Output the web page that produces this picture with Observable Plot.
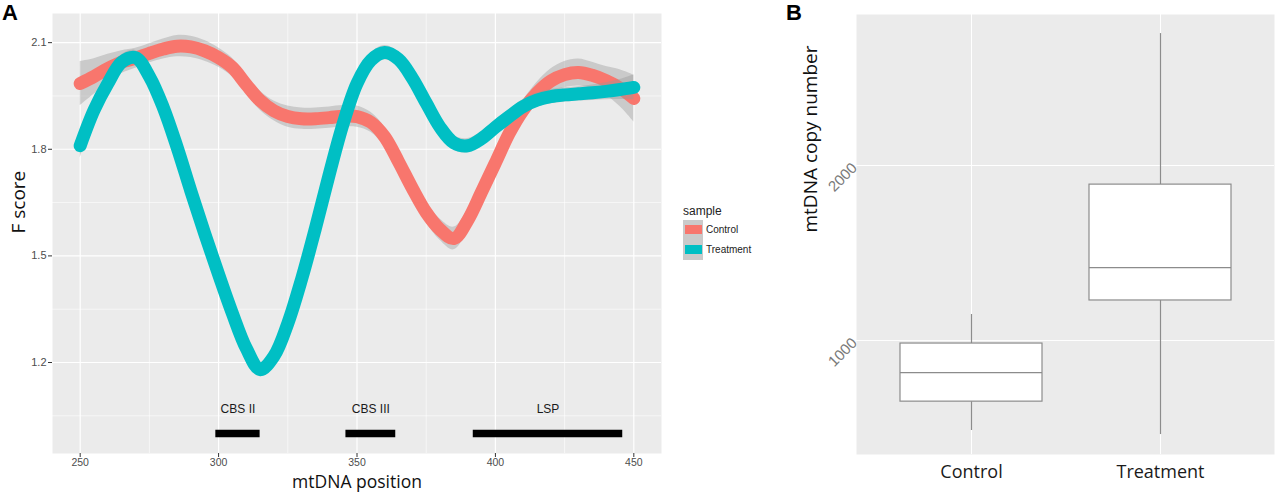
<!DOCTYPE html>
<html>
<head>
<meta charset="utf-8">
<script src="https://cdn.jsdelivr.net/npm/d3@7"></script>
<script src="https://cdn.jsdelivr.net/npm/@observablehq/plot@0.6"></script>
<style>
  body { margin: 0; background: white; }
  #wrap { position: relative; width: 1280px; height: 492px; overflow: hidden; font-family: "Liberation Sans", Arial, sans-serif; }
  #chartA { position: absolute; left: 0; top: 0; }
  #chartB { position: absolute; left: 780px; top: 0; }
  .tag { position: absolute; top: 0px; font: bold 22px "Liberation Sans", Arial, sans-serif; color: #000; }
  #legend { position: absolute; left: 683px; top: 202px; font-size: 10px; color: #222; }
  #legend .title { font-size: 12px; height: 18px; line-height: 18px; }
  #legend .row { position: relative; height: 20px; margin-bottom: 0px; }
  #legend .key { position: absolute; left: 0; top: 0; width: 20px; height: 20px; background: #cacaca; }
  #legend .key span { position: absolute; left: 2px; top: 5px; width: 17px; height: 9px; }
  #legend .lab { position: absolute; left: 23px; top: 0; line-height: 20px; white-space: nowrap; }
</style>
</head>
<body>
<div id="wrap">
  <div id="chartA"></div>
  <div id="chartB"></div>
  <div class="tag" style="left:2px">A</div>
  <div class="tag" style="left:786px">B</div>
  <div id="legend"></div>
</div>
<script>
// panel A: smoothed F score along mtDNA position
const positions = [250, 255, 260, 265, 270, 275, 280, 285, 290, 295, 300, 305, 310, 315, 320, 325, 330, 335, 340, 345,
  350, 355, 360, 365, 370, 375, 380, 385, 390, 395, 400, 405, 410, 415, 420, 425, 430, 435, 440, 445, 450];

const controlF = [1.985, 2.005, 2.027, 2.045, 2.056, 2.070, 2.082, 2.090, 2.088, 2.077, 2.058, 2.030, 1.982, 1.937, 1.908,
  1.892, 1.886, 1.886, 1.889, 1.893, 1.892, 1.876, 1.835, 1.765, 1.690, 1.622, 1.574, 1.549, 1.600, 1.680,
  1.762, 1.845, 1.910, 1.958, 1.992, 2.010, 2.016, 2.008, 1.993, 1.972, 1.943];

const controlSe = [0.062, 0.050, 0.040, 0.032, 0.028, 0.027, 0.028, 0.030, 0.030, 0.029, 0.027, 0.026, 0.026, 0.027, 0.028,
  0.030, 0.030, 0.030, 0.030, 0.030, 0.030, 0.028, 0.027, 0.026, 0.026, 0.027, 0.030, 0.032, 0.030, 0.027,
  0.026, 0.026, 0.027, 0.030, 0.034, 0.037, 0.038, 0.037, 0.040, 0.052, 0.066];

const treatmentF = [1.810, 1.910, 1.985, 2.045, 2.058, 2.005, 1.918, 1.806, 1.682, 1.562, 1.448, 1.338, 1.240, 1.180, 1.218,
  1.310, 1.435, 1.578, 1.730, 1.872, 1.985, 2.050, 2.072, 2.053, 2.000, 1.930, 1.862, 1.818, 1.810, 1.830,
  1.862, 1.892, 1.920, 1.938, 1.948, 1.953, 1.956, 1.959, 1.963, 1.968, 1.974];

const treatmentSe = [0.035, 0.028, 0.022, 0.020, 0.020, 0.020, 0.020, 0.020, 0.020, 0.020, 0.020, 0.020, 0.020, 0.020, 0.020,
  0.020, 0.020, 0.020, 0.020, 0.020, 0.020, 0.020, 0.020, 0.020, 0.020, 0.020, 0.020, 0.020, 0.020, 0.020,
  0.020, 0.020, 0.020, 0.020, 0.020, 0.020, 0.020, 0.022, 0.024, 0.028, 0.035];

const regionNames = ["CBS II", "CBS III", "LSP"];
const regionStart = [299, 346, 392];
const regionEnd = [315, 364, 446];
const regionLevel = 1.0;
const regionLabelLevel = 1.07;

const xMajor = [250, 300, 350, 400, 450];
const xMinor = [275, 325, 375, 425];
const yMajor = [1.2, 1.5, 1.8, 2.1];
const yMinor = [1.05, 1.35, 1.65, 1.95];

const samples = ["Control", "Treatment"];
const sampleColors = ["#F8766D", "#00BFC4"];

// panel B: box plot of mtDNA copy number
const groups = ["Control", "Treatment"];
const lowWhisker = [486, 463];
const q1 = [651, 1229];
const median = [817, 1417];
const q3 = [983, 1891];
const highWhisker = [1149, 2754];
const yTicksB = [1000, 2000];

const series = (ys, se) => positions.map((x, i) => ({x, f: ys[i], lo: ys[i] - se[i], hi: ys[i] + se[i]}));
const ctrl = series(controlF, controlSe);
const treat = series(treatmentF, treatmentSe);
const regions = regionNames.map((name, i) => ({name, x1: regionStart[i], x2: regionEnd[i]}));

const grid = {stroke: "white", strokeOpacity: 1};
const smooth = "catmull-rom";

const chartA = Plot.plot({
  width: 670,
  height: 492,
  marginLeft: 52,
  marginRight: 9,
  marginTop: 13,
  marginBottom: 39,
  style: {fontFamily: "Liberation Sans, Arial, sans-serif", fontSize: "11px", background: "white"},
  x: {domain: [240, 460]},
  y: {domain: [0.944, 2.182]},
  marks: [
    Plot.frame({fill: "#ebebeb", stroke: "none"}),
    Plot.gridX({...grid, ticks: xMinor, strokeWidth: 0.6}),
    Plot.gridY({...grid, ticks: yMinor, strokeWidth: 0.6}),
    Plot.gridX({...grid, ticks: xMajor, strokeWidth: 1.2}),
    Plot.gridY({...grid, ticks: yMajor, strokeWidth: 1.2}),
    Plot.areaY(ctrl, {x: "x", y1: "lo", y2: "hi", fill: "#999999", fillOpacity: 0.4, curve: smooth}),
    Plot.line(ctrl, {x: "x", y: "f", stroke: sampleColors[0], strokeWidth: 13, curve: smooth}),
    Plot.areaY(treat, {x: "x", y1: "lo", y2: "hi", fill: "#999999", fillOpacity: 0.4, curve: smooth}),
    Plot.line(treat, {x: "x", y: "f", stroke: sampleColors[1], strokeWidth: 13, curve: smooth}),
    Plot.ruleY(regions, {y: () => regionLevel, x1: "x1", x2: "x2", stroke: "black", strokeWidth: 7.5}),
    Plot.text(regions, {x: d => (d.x1 + d.x2) / 2, y: () => regionLabelLevel, text: "name", fontSize: 12, fill: "#1a1a1a"}),
    Plot.axisX({ticks: xMajor, tickSize: 4, tickPadding: 1.5, fontSize: 10.5, fill: "#4d4d4d", stroke: "#333", label: null}),
    Plot.axisY({ticks: yMajor, tickFormat: ".1f", tickSize: 4, tickPadding: 2, fontSize: 11, fill: "#4d4d4d", stroke: "#333", label: null}),
    Plot.text(["mtDNA position"], {text: d => d, frameAnchor: "bottom", lineAnchor: "middle", dy: 28.5, fontSize: 17.5, fill: "#111", fontFamily: "Open Sans"}),
    Plot.text(["F score"], {text: d => d, frameAnchor: "left", rotate: -90, dx: -34, fontSize: 19, fill: "#111", fontFamily: "Open Sans"})
  ]
});
document.getElementById("chartA").append(chartA);

const boxes = groups.map((group, i) => ({group, lo: lowWhisker[i], q1: q1[i], median: median[i], q3: q3[i], hi: highWhisker[i]}));
const boxStroke = {stroke: "#8c8c8c", strokeWidth: 1.2};

const chartB = Plot.plot({
  width: 500,
  height: 492,
  marginLeft: 76,
  marginRight: 6,
  marginTop: 14,
  marginBottom: 38,
  style: {fontFamily: "Liberation Sans, Arial, sans-serif", fontSize: "11px", background: "white"},
  x: {type: "band", domain: groups, paddingInner: 0.25, paddingOuter: 0.225},
  y: {domain: [349, 2863]},
  marks: [
    Plot.frame({fill: "#ebebeb", stroke: "none"}),
    Plot.gridY({...grid, ticks: yTicksB, strokeWidth: 1}),
    Plot.gridX({...grid, strokeWidth: 1}),
    Plot.ruleX(boxes, {x: "group", y1: "lo", y2: "q1", ...boxStroke}),
    Plot.ruleX(boxes, {x: "group", y1: "q3", y2: "hi", ...boxStroke}),
    Plot.barY(boxes, {x: "group", y1: "q1", y2: "q3", fill: "white", ...boxStroke}),
    Plot.tickY(boxes, {x: "group", y: "median", ...boxStroke}),
    Plot.axisX({tickSize: 0, tickPadding: 11, fontSize: 18, fill: "#1a1a1a", fontFamily: "Open Sans", label: null}),
    Plot.axisY({ticks: yTicksB, tickFormat: "d", tickSize: 0, tickPadding: 2, tickRotate: -45, fontSize: 15, fill: "#7a7a7a", label: null}),
    Plot.text(["mtDNA copy number"], {text: d => d, frameAnchor: "left", rotate: -90, dx: -46, dy: -2, fontSize: 19, fill: "#111", fontFamily: "Open Sans"})
  ]
});
document.getElementById("chartB").append(chartB);

// legend for panel A
const legend = d3.select("#legend");
legend.append("div").attr("class", "title").text("sample");
samples.forEach((s, i) => {
  const row = legend.append("div").attr("class", "row");
  row.append("div").attr("class", "key").append("span").style("background", sampleColors[i]);
  row.append("div").attr("class", "lab").text(s);
});
</script>
</body>
</html>
